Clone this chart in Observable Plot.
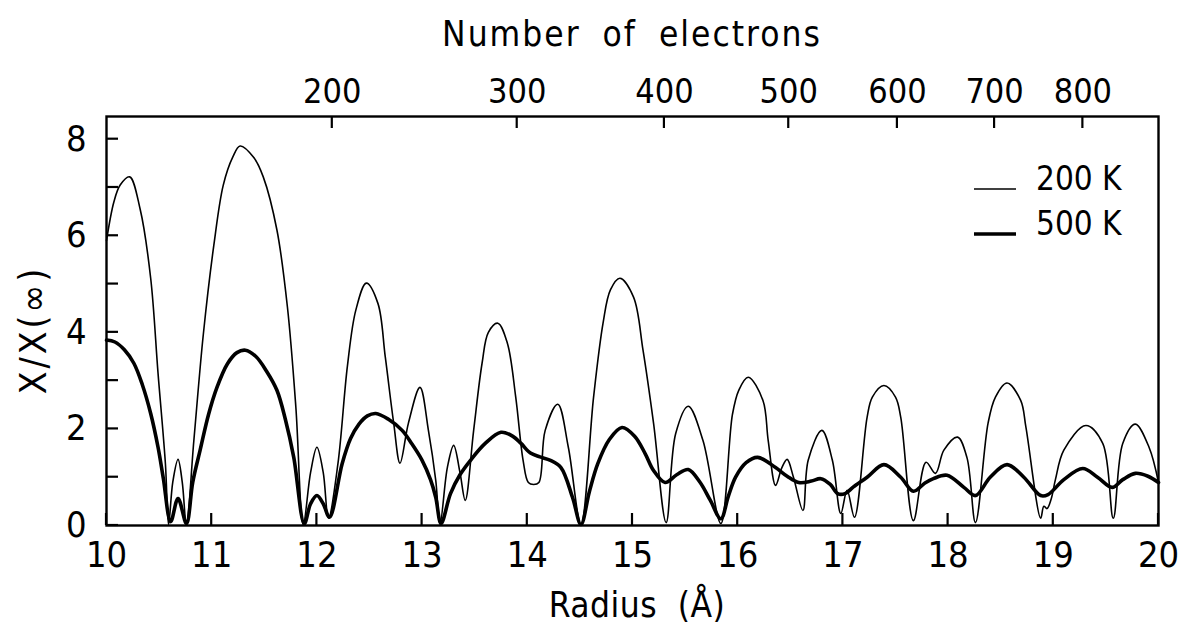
<!DOCTYPE html>
<html><head><meta charset="utf-8">
<script src="https://cdn.jsdelivr.net/npm/d3@7"></script>
<script src="https://cdn.jsdelivr.net/npm/@observablehq/plot@0.6"></script>
<style>
body{margin:0;background:#fff;}
#chart svg{display:block;}
</style></head><body><div id="chart"></div>
<script>
// ---- data ----
const radius200 = [10.00,10.07,10.13,10.22,10.32,10.42,10.49,10.56,10.59,10.63,10.68,10.72,10.76,10.83,10.92,11.02,11.11,11.20,11.27,11.40,11.49,11.62,11.72,11.80,11.87,11.94,12.00,12.06,12.11,12.20,12.29,12.37,12.47,12.58,12.65,12.73,12.79,12.87,12.98,13.06,13.13,13.17,13.24,13.30,13.36,13.41,13.49,13.57,13.63,13.72,13.81,13.89,13.96,14.01,14.06,14.11,14.17,14.29,14.39,14.51,14.63,14.72,14.79,14.88,15.01,15.10,15.20,15.32,15.41,15.53,15.67,15.84,15.95,16.01,16.10,16.24,16.29,16.36,16.42,16.47,16.53,16.62,16.67,16.80,16.90,16.98,17.04,17.11,17.23,17.28,17.39,17.50,17.55,17.67,17.79,17.88,17.96,18.09,18.18,18.26,18.38,18.45,18.56,18.69,18.74,18.88,18.91,18.94,18.98,19.02,19.10,19.31,19.47,19.57,19.66,19.78,19.91,20.00];
const chi200 = [5.90,6.70,7.05,7.22,6.55,5.12,3.15,1.28,0.02,0.90,1.37,0.90,0.02,1.75,3.95,5.80,7.05,7.63,7.86,7.62,7.22,6.12,4.52,2.45,0.02,1.10,1.62,1.10,0.15,1.28,3.30,4.46,5.02,4.60,3.49,2.12,1.29,2.12,2.86,1.97,0.93,0.03,1.20,1.66,1.10,0.52,1.97,3.36,4.00,4.19,3.78,2.66,1.35,0.89,0.85,0.89,1.97,2.51,1.62,0.02,2.66,4.19,4.88,5.12,4.73,3.63,2.12,0.06,1.90,2.47,1.76,0.04,2.30,2.80,3.07,2.59,1.76,0.83,1.20,1.37,1.00,0.31,1.35,1.97,1.35,0.25,0.73,0.17,2.24,2.66,2.90,2.66,2.24,0.10,1.31,1.08,1.56,1.83,1.40,0.06,2.12,2.66,2.95,2.59,2.03,0.15,0.40,0.35,0.55,0.95,1.56,2.07,1.70,0.15,1.70,2.10,1.62,0.89];

const radius500 = [10.00,10.08,10.17,10.26,10.34,10.42,10.49,10.54,10.61,10.68,10.76,10.82,10.89,10.97,11.05,11.15,11.24,11.32,11.42,11.52,11.62,11.70,11.78,11.88,11.94,12.00,12.06,12.12,12.24,12.32,12.40,12.48,12.56,12.68,12.81,12.90,13.00,13.08,13.13,13.18,13.27,13.36,13.46,13.60,13.75,13.86,13.94,14.03,14.12,14.22,14.32,14.43,14.51,14.59,14.67,14.78,14.90,15.02,15.12,15.20,15.31,15.42,15.53,15.64,15.74,15.84,15.91,15.98,16.08,16.19,16.36,16.47,16.58,16.70,16.79,16.88,16.95,17.02,17.10,17.23,17.39,17.55,17.67,17.78,17.86,17.99,18.15,18.26,18.40,18.56,18.72,18.88,18.95,19.10,19.28,19.42,19.56,19.66,19.78,19.90,20.00];
const chi500 = [3.84,3.80,3.64,3.36,2.92,2.32,1.62,0.98,0.08,0.56,0.04,0.90,1.56,2.30,2.86,3.35,3.58,3.63,3.50,3.20,2.80,2.20,1.41,0.04,0.45,0.62,0.45,0.17,1.28,1.80,2.10,2.27,2.32,2.20,1.97,1.70,1.35,0.95,0.58,0.04,0.66,1.05,1.35,1.70,1.93,1.85,1.70,1.50,1.42,1.35,1.20,0.58,0.02,0.70,1.28,1.78,2.03,1.85,1.49,1.14,0.89,1.05,1.16,0.90,0.52,0.14,0.60,1.00,1.30,1.41,1.20,1.02,0.89,0.92,0.97,0.85,0.66,0.66,0.80,1.00,1.26,1.00,0.71,0.88,0.97,1.04,0.79,0.62,1.00,1.26,1.00,0.62,0.64,0.95,1.18,1.00,0.79,0.95,1.08,1.02,0.89];

const radiusTicks = [10,11,12,13,14,15,16,17,18,19,20];
const chiTicks = [0,1,2,3,4,5,6,7,8];
const chiLabels = [0,2,4,6,8];
const electronTicks = [200,300,400,500,600,700,800];
const seriesLabels = ["200 K","500 K"];
const rs = 2.077; // radius (Å) = rs * N^(1/3)

const FONT = '"DejaVu Sans Condensed","DejaVu Sans",sans-serif';
const data200 = radius200.map((r,i)=>({r, chi: chi200[i]}));
const data500 = radius500.map((r,i)=>({r, chi: chi500[i]}));
const electronRadii = electronTicks.map(n => rs * Math.cbrt(n));

const W = 1183, H = 624;
const plot = Plot.plot({
  width: W, height: H,
  marginLeft: 106, marginRight: 25, marginTop: 116, marginBottom: 99,
  style: {fontFamily: FONT, fontSize: "36px", color: "#000", background: "#fff", overflow: "visible"},
  x: {domain: [10, 20]},
  y: {domain: [0, 8.47]},
  marks: [
    Plot.axisX({anchor: "bottom", ticks: radiusTicks, tickSize: 0, tickPadding: 16, label: null, fontSize: 36}),
    Plot.axisX({anchor: "top", ticks: electronRadii,
      tickFormat: d => Math.round(Math.pow(d / rs, 3) / 100) * 100,
      tickSize: 0, tickPadding: 14, label: null, fontSize: 34}),
    Plot.axisY({anchor: "left", ticks: chiTicks, tickSize: 0, tickPadding: 20,
      tickFormat: d => chiLabels.includes(d) ? String(d) : "", label: null, fontSize: 36}),
    Plot.line(data200, {x: "r", y: "chi", curve: "catmull-rom", stroke: "#000", strokeWidth: 1.6}),
    Plot.line(data500, {x: "r", y: "chi", curve: "catmull-rom", stroke: "#000", strokeWidth: 3.6}),
    Plot.frame({stroke: "#000", strokeWidth: 2.4})
  ]
});
document.getElementById("chart").appendChild(plot);

const sx = plot.scale("x"), sy = plot.scale("y");
const x = v => sx.apply(v), y = v => sy.apply(v);
const svg = d3.select(plot);
const tk = svg.append("g").attr("stroke", "#000").attr("stroke-width", 2.2);
const y0 = y(0), yTop = y(8.47), xL = x(10);
radiusTicks.forEach(r => tk.append("line").attr("x1", x(r)).attr("x2", x(r)).attr("y1", y0).attr("y2", y0 - 12));
electronRadii.forEach(r => tk.append("line").attr("x1", x(r)).attr("x2", x(r)).attr("y1", yTop).attr("y2", yTop + 12));
chiTicks.forEach(v => tk.append("line").attr("x1", xL).attr("x2", xL + 12).attr("y1", y(v)).attr("y2", y(v)));

const t = (px, py, s, ls, ws) => svg.append("text").attr("x", px).attr("y", py)
  .attr("text-anchor", "middle").attr("font-family", FONT).attr("font-size", 35)
  .attr("letter-spacing", ls).attr("word-spacing", ws).attr("fill", "#000").text(s);
t(632, 46, "Number of electrons", 2, 10);
t(637, 617, "Radius (Å)", 0.5, 10);
svg.append("text").attr("transform", "translate(46,330) rotate(-90)")
  .attr("text-anchor", "middle").attr("font-family", FONT).attr("font-size", 37)
  .attr("letter-spacing", 3).attr("fill", "#000").text("X/X(∞)");
// legend
const lg = svg.append("g");
[[189, 1.6], [234, 3.6]].forEach(([ly, w], i) => {
  lg.append("line").attr("x1", 974).attr("x2", 1016).attr("y1", ly).attr("y2", ly).attr("stroke", "#000").attr("stroke-width", w);
  lg.append("text").attr("x", 1036).attr("y", ly + 1).attr("text-anchor", "start").attr("font-family", FONT)
    .attr("font-size", 33).attr("fill", "#000").text(seriesLabels[i]);
});
</script></body></html>
